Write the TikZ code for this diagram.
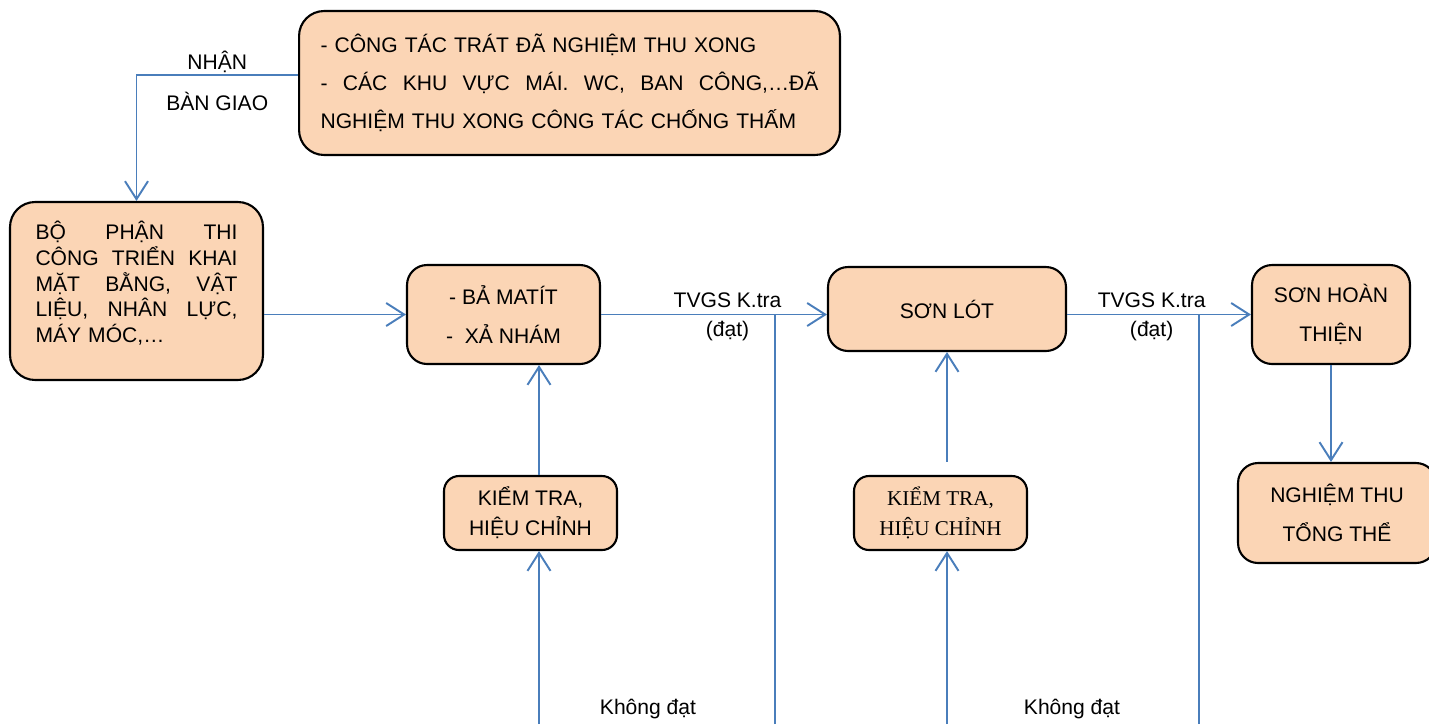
\documentclass[tikz,border=0pt]{standalone}
\usepackage{fontspec}
\setmainfont{Liberation Sans}
\newfontfamily\timesvn{Liberation Serif}
\usetikzlibrary{arrows.meta,calc}
\definecolor{boxfill}{RGB}{251,213,181}
\definecolor{lineblue}{RGB}{74,126,187}

\begin{document}
\begin{tikzpicture}[x=0.02cm, y=-0.02cm, font=\fontsize{12}{14}\selectfont,
        box/.style={draw, line width=1.2pt, rounded corners=0.4cm, fill=boxfill, align=center, inner sep=0pt},
        link/.style={draw=lineblue, line width=1.1pt, -{Straight Barb[length=3.6mm,width=4.6mm]}},
        wire/.style={draw=lineblue, line width=1.1pt}]
    \useasboundingbox (0,0) rectangle (1429,724);

    % dieu kien dau vao
    \node[box, rounded corners=0.5cm, minimum width=10.82cm, minimum height=2.88cm, text width=9.96cm, align=left, font=\fontsize{12}{21.5}\selectfont] (input) at (569.5,83) {- CÔNG TÁC TRÁT ĐÃ NGHIỆM THU XONG\\
        -\hfill CÁC\hfill KHU\hfill VỰC\hfill MÁI.\hfill WC,\hfill BAN\hfill CÔNG,…ĐÃ\\
        NGHIỆM THU XONG CÔNG TÁC CHỐNG THẤM};

    % trien khai
    \node[box, rounded corners=0.5cm, minimum width=5.06cm, minimum height=3.56cm, text width=4.04cm, align=left, font=\fontsize{12}{14.7}\selectfont] (crew) at (136.5,291) {BỘ\hfill PHẬN\hfill THI\\
        CÔNG\hfill TRIỂN\hfill KHAI\\
        MẶT\hfill BẰNG,\hfill VẬT\\
        LIỆU,\hfill NHÂN\hfill LỰC,\\
        MÁY MÓC,…\\[-0.15cm] \mbox{}};

    % cac buoc son
    \node[box, minimum width=3.86cm, minimum height=1.98cm, font=\fontsize{12}{22.7}\selectfont] (bm) at (503.5,314.5) {- BẢ MATÍT\\-\ \ XẢ NHÁM};
    \node[box, minimum width=4.76cm, minimum height=1.68cm] (sl) at (947,309) {SƠN LÓT};
    \node[box, minimum width=3.16cm, minimum height=1.98cm, font=\fontsize{12}{22}\selectfont] (sht) at (1331,314.5) {SƠN HOÀN\\THIỆN};
    \node[box, minimum width=3.96cm, minimum height=2cm, font=\fontsize{12}{22}\selectfont] (ntt) at (1337,513) {NGHIỆM THU\\TỔNG THỂ};

    % kiem tra, hieu chinh
    \node[box, rounded corners=0.3cm, minimum width=3.46cm, minimum height=1.48cm, font=\fontsize{12}{17}\selectfont] (kt1) at (530.5,513) {KIỂM TRA,\\HIỆU CHỈNH};
    \node[box, rounded corners=0.3cm, minimum width=3.46cm, minimum height=1.48cm, font=\timesvn\fontsize{12}{17}\selectfont] (kt2) at (940.5,513) {KIỂM TRA,\\HIỆU CHỈNH};

    % dau ra o mep duoi
    \coordinate (u1) at (539,724);
    \coordinate (d1) at (775,724);
    \coordinate (u2) at (947,724);
    \coordinate (d2) at (1199,724);

    % duong noi
    \draw[link] ([yshift=0.16cm]input.west) -| (crew.north) node[pos=0.25, above=-0.1cm] (lbnhan) {NHẬN} node[pos=0.25, below=0.2cm] (lbgiao) {BÀN GIAO};
    \draw[link] (crew.east |- bm.west) -- (bm.west);
    \draw[link] (bm.east) -- (bm.east -| sl.west) node[pos=0.56, above] (lbtv1) {TVGS K.tra} node[pos=0.56, below] (lbdat1) {(đạt)};
    \draw[link] (sl.east |- sht.west) -- (sht.west) node[pos=0.46, above] (lbtv2) {TVGS K.tra} node[pos=0.46, below] (lbdat2) {(đạt)};
    \draw[link] (sht.south) -- (sht.south |- ntt.north);

    \draw[wire] (d1) -- (d1 |- bm.east);
    \draw[wire] (d2) -- (d2 |- sht.west);
    \draw[link] (u1) -- (u1 |- kt1.south);
    \draw[link] (kt1.north -| u1) -- (bm.south -| u1);
    \draw[link] (u2) -- (u2 |- kt2.south);
    \draw[link] ($(sl.south |- kt2.north)+(0,-13)$) -- (sl.south);

    \node (nd1) at (648,709) {Không đạt};
    \node (nd2) at (1072,709) {Không đạt};
\end{tikzpicture}
\end{document}
